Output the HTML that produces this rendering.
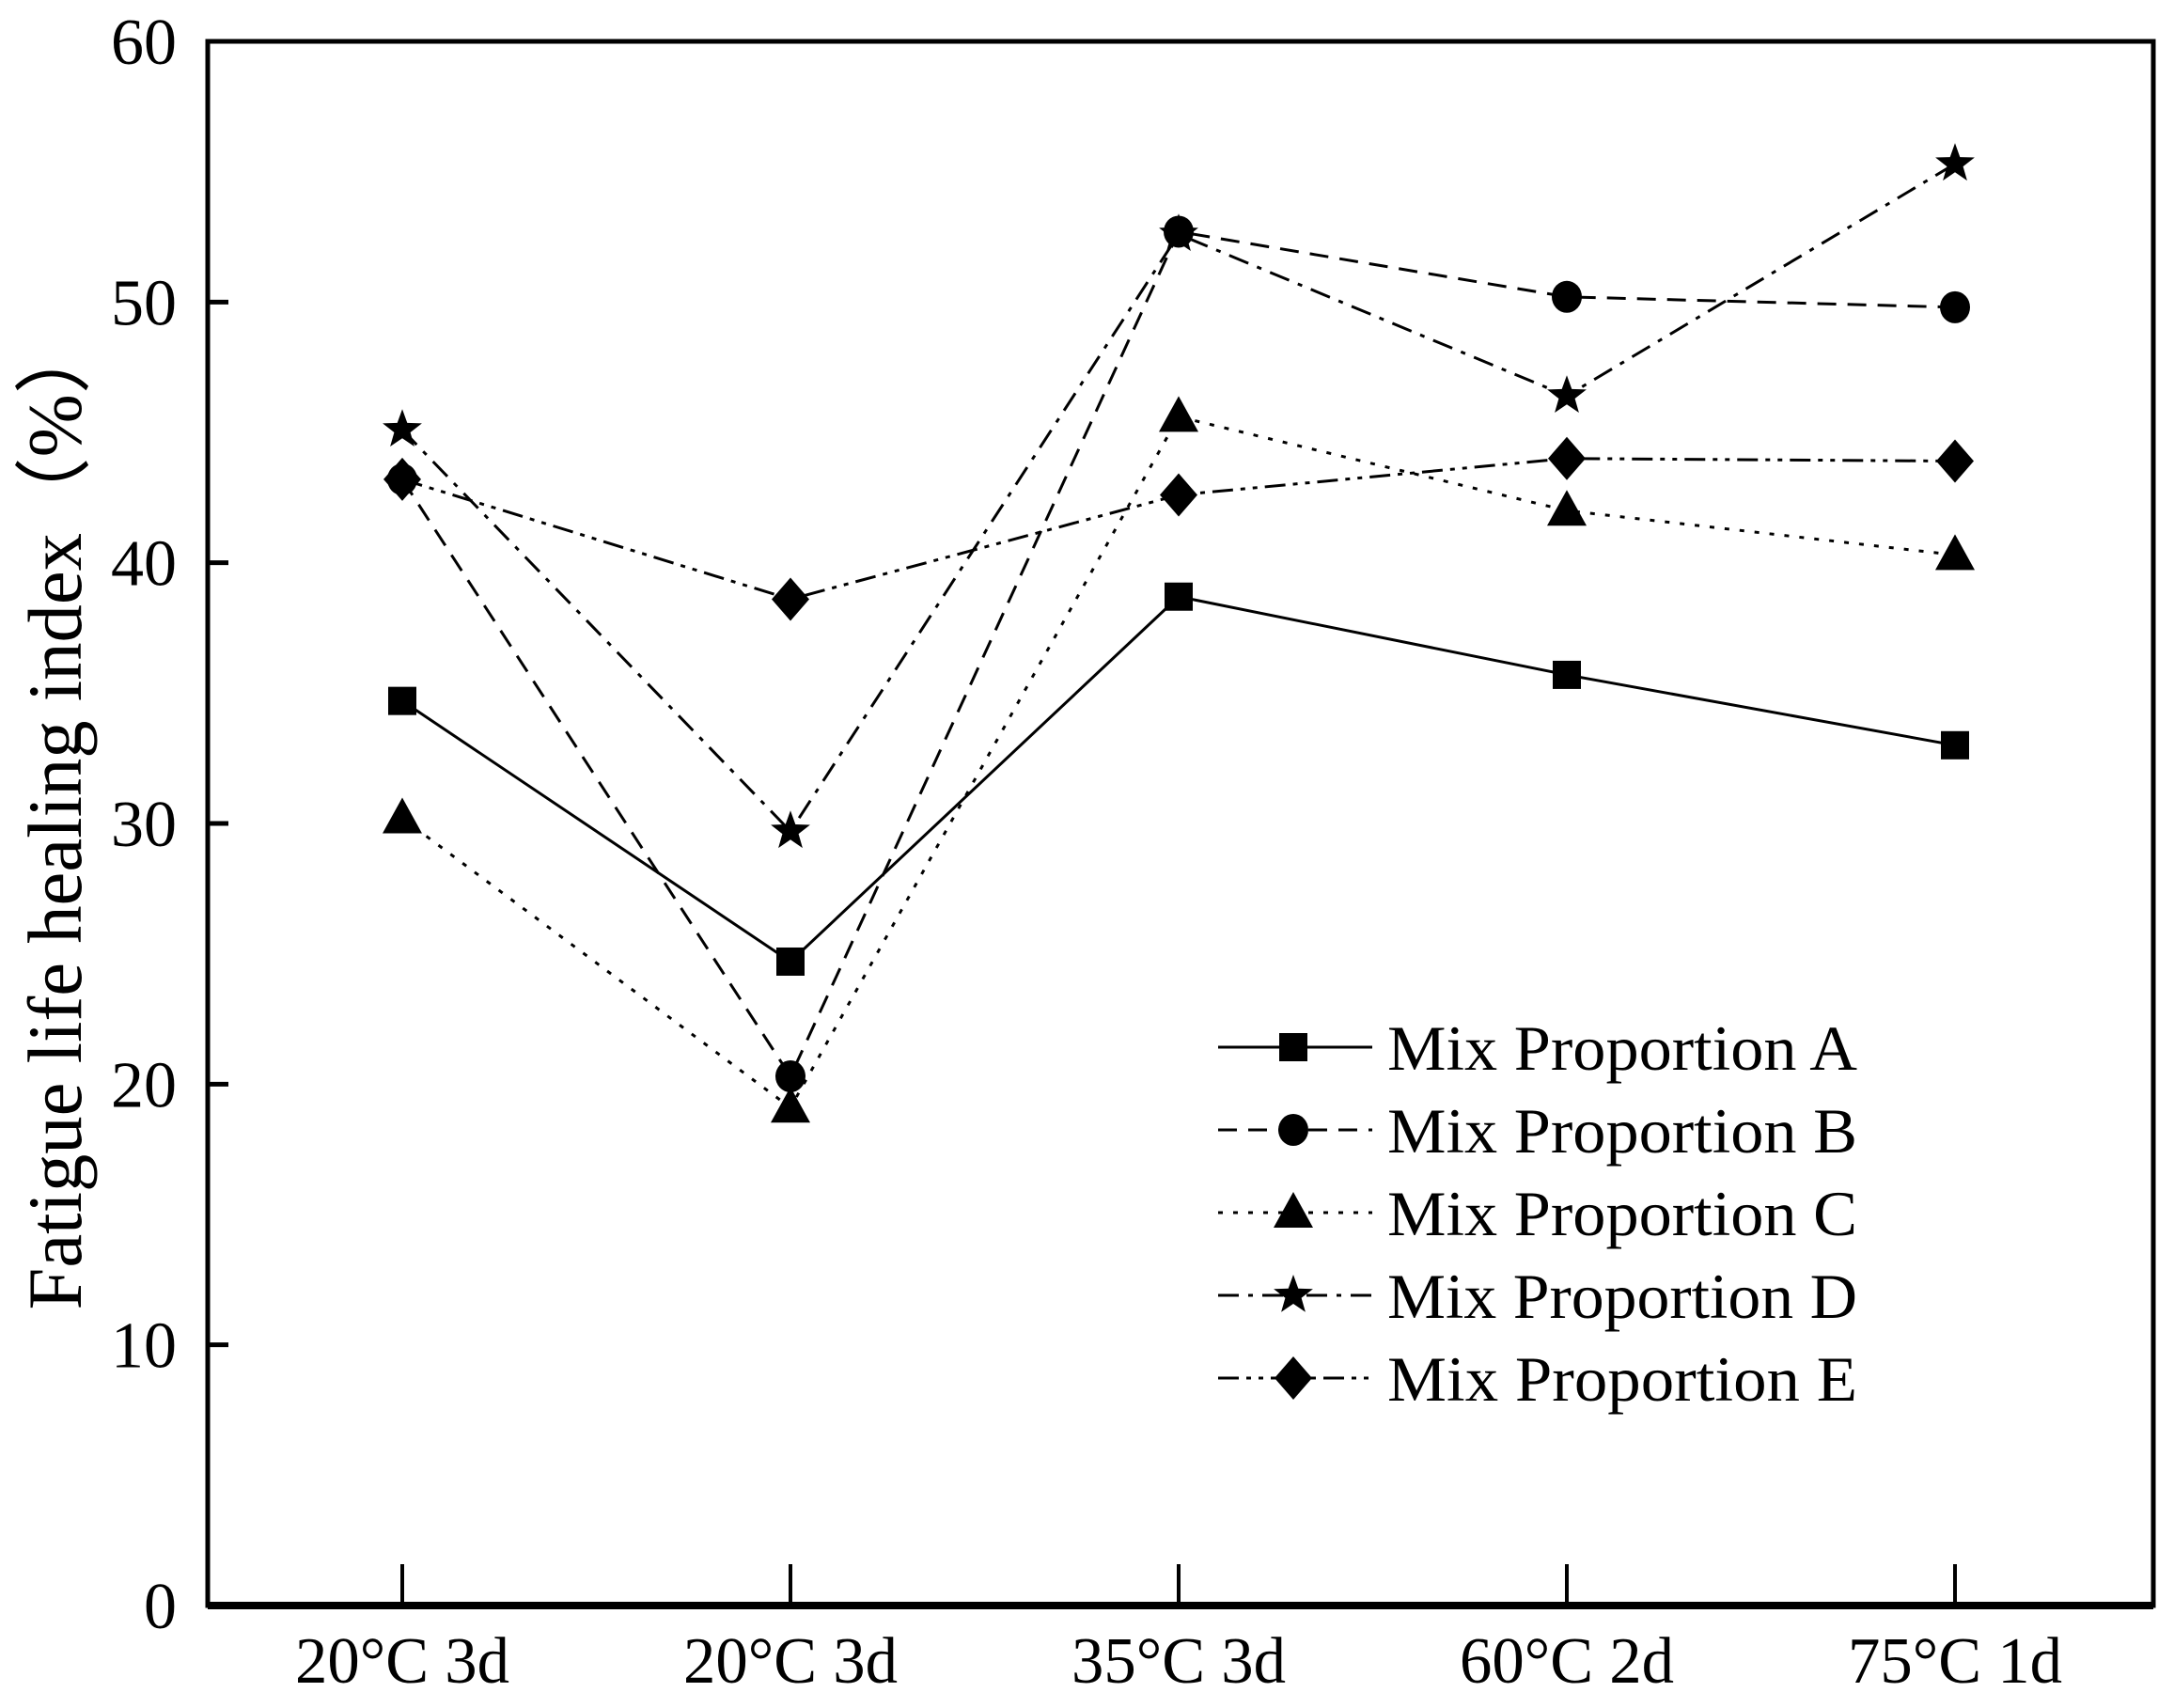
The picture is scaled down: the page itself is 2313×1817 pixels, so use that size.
<!DOCTYPE html>
<html><head><meta charset="utf-8"><style>html,body{margin:0;padding:0;background:#fff}svg{display:block}text{font-family:"Liberation Serif",serif;fill:#000}</style></head>
<body>
<svg id="chart" width="2313" height="1817" viewBox="0 0 2313 1817" xmlns="http://www.w3.org/2000/svg">
<g id="plot"></g>
</svg>
<script>
const categories = ["20°C 3d","20°C 3d","35°C 3d","60°C 2d","75°C 1d"];
const seriesA = [34.7,24.7,38.7,35.7,33.0];
const seriesB = [43.2,20.3,52.7,50.2,49.8];
const seriesC = [30.2,19.1,45.6,42.0,40.3];
const seriesD = [45.1,29.7,52.6,46.4,55.3];
const seriesE = [43.2,38.6,42.6,44.0,43.9];
const yTicks = [0,10,20,30,40,50,60];
const seriesNames = ["Mix Proportion A","Mix Proportion B","Mix Proportion C","Mix Proportion D","Mix Proportion E"];

const L=221,R=2291,T=44,B=1708;
const NS="http://www.w3.org/2000/svg";
const g=document.getElementById('plot');
function y(v){return B-(v/60)*(B-T);}
function x(i){return 428+i*413;}
function mk(tag,attrs,parent){const e=document.createElementNS(NS,tag);for(const k in attrs)e.setAttribute(k,attrs[k]);(parent||g).appendChild(e);return e;}

// axes frame
const frame=mk('rect',{x:L,y:T,width:R-L,height:B-T,fill:'none',stroke:'#000','stroke-width':5});


const bax=mk('line',{x1:L,x2:R,y1:B,y2:B,stroke:'#000','stroke-width':8});



yTicks.forEach(v=>{
  const t=mk('line',{x1:L,x2:L+22,y1:y(v),y2:y(v),stroke:'#000','stroke-width':5});
  
  
  const lb=mk('text',{x:188,y:y(v)+24,'font-size':70,'text-anchor':'end'});
  lb.textContent=v;
  
  
});
categories.forEach((c,i)=>{
  const t=mk('line',{x1:x(i),x2:x(i),y1:B,y2:B-44,stroke:'#000','stroke-width':4});
  
  
  const lb=mk('text',{x:x(i),y:1790,'font-size':70,'text-anchor':'middle',textLength:228,lengthAdjust:'spacingAndGlyphs'});
  lb.textContent=c;
  
  
});
const yt=mk('text',{x:0,y:0,'font-size':82,'text-anchor':'middle',transform:'translate(86,866) rotate(-90)',textLength:1055,lengthAdjust:'spacingAndGlyphs'});
yt.textContent='Fatigue life healing index（%）';



const dashes=['none','20,12','5,11','22,10,5,10','22,8,5,8,5,8'];
const markers=['square','circle','triangle','star','diamond'];
function marker(type,cx,cy,parent){
  let e;
  if(type==='square') e=mk('rect',{x:cx-15,y:cy-15,width:30,height:30},parent);
  else if(type==='circle') e=mk('ellipse',{cx:cx,cy:cy,rx:16,ry:17},parent);
  else if(type==='triangle') e=mk('polygon',{points:`${cx},${cy-22} ${cx+21},${cy+16} ${cx-21},${cy+16}`},parent);
  else if(type==='diamond') e=mk('polygon',{points:`${cx},${cy-23} ${cx+20},${cy} ${cx},${cy+23} ${cx-20},${cy}`},parent);
  else {let p=[];for(let k=0;k<10;k++){const r=k%2?9:22;const a=-Math.PI/2+k*Math.PI/5;p.push((cx+r*Math.cos(a)).toFixed(1)+','+(cy+r*Math.sin(a)).toFixed(1));}
    e=mk('polygon',{points:p.join(' ')},parent);}
  e.setAttribute('fill','#000');
  return e;
}
const allSeries=[seriesA,seriesB,seriesC,seriesD,seriesE];
allSeries.forEach((s,si)=>{
  const sg=mk('g',{});
  
  
  const pl=mk('polyline',{points:s.map((v,i)=>x(i)+','+y(v)).join(' '),fill:'none',stroke:'#000','stroke-width':3,'stroke-dasharray':dashes[si]},sg);
  
  
  s.forEach((v,i)=>{
    const m=marker(markers[si],x(i),y(v),sg);
    
    
  });
});
// legend
const lg=mk('g',{});


seriesNames.forEach((n,i)=>{
  const ry=1114+i*88;
  const eg=mk('g',{},lg);
  
  
  mk('line',{x1:1296,x2:1460,y1:ry,y2:ry,stroke:'#000','stroke-width':3,'stroke-dasharray':dashes[i]},eg);
  marker(markers[i],1376,ry,eg);
  const t=mk('text',{x:1476,y:ry+24,'font-size':68,textLength:500,lengthAdjust:'spacingAndGlyphs'},eg);
  t.textContent=n;
});
</script>
</body></html>
